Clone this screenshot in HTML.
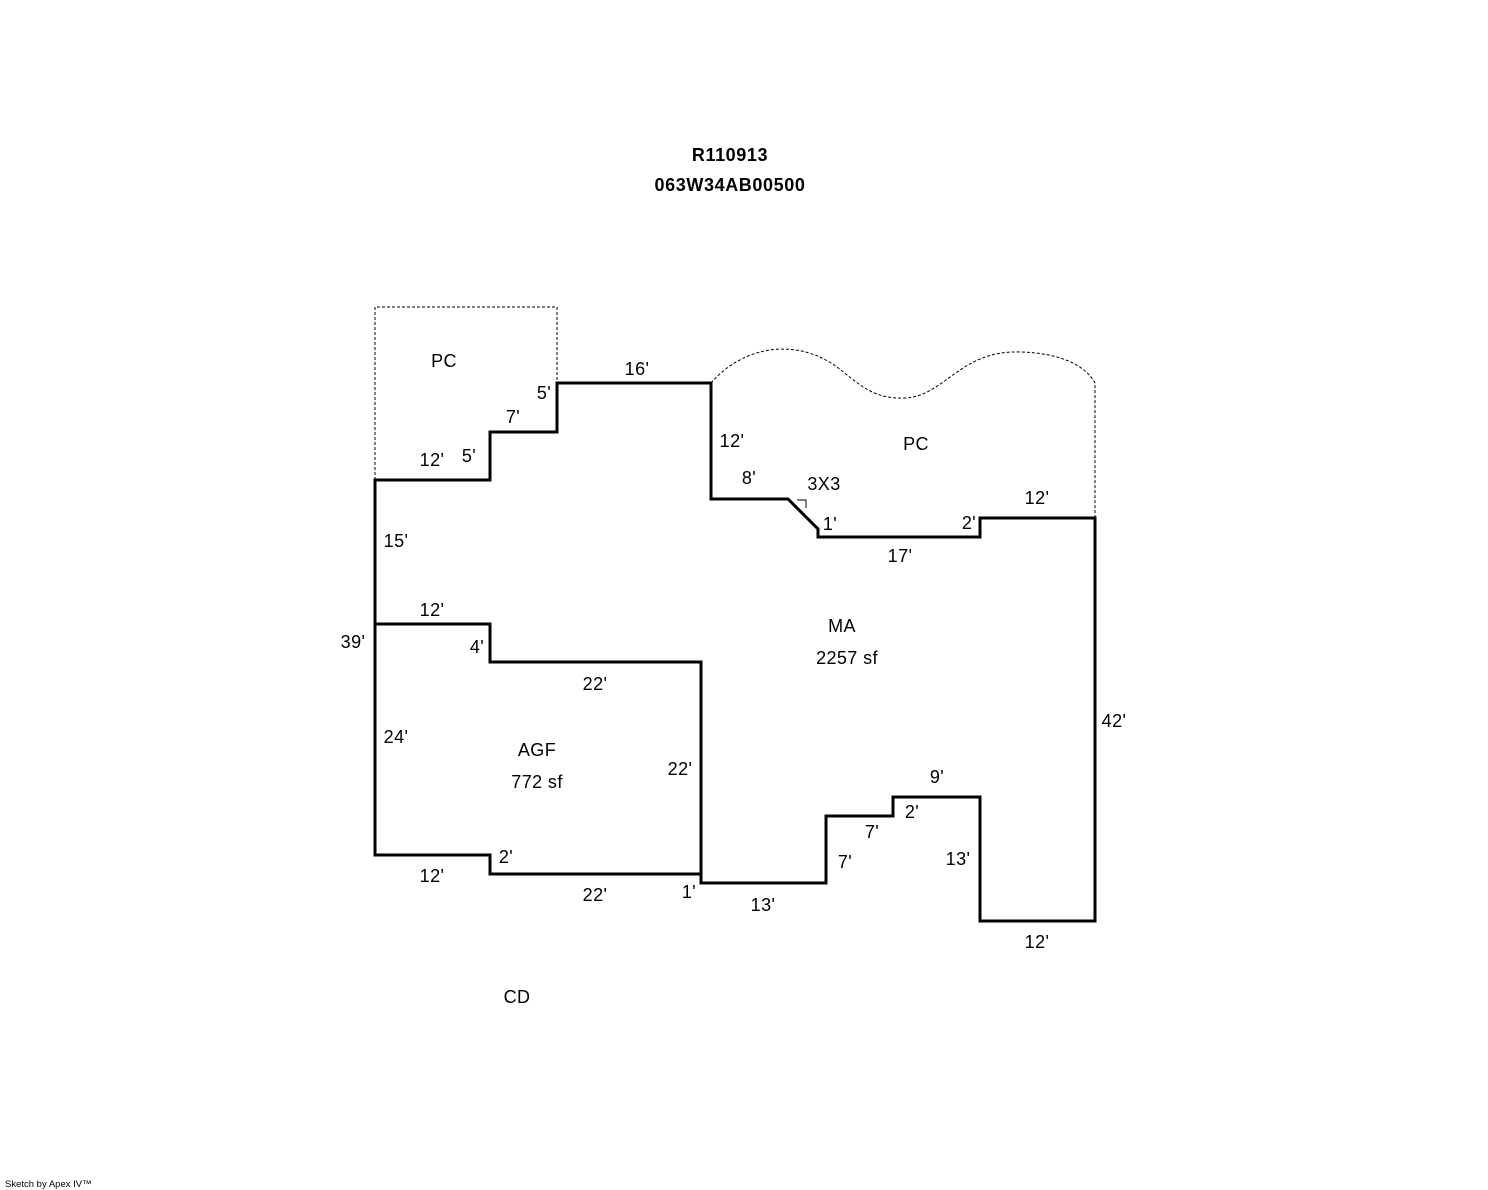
<!DOCTYPE html>
<html><head><meta charset="utf-8"><style>
html,body{margin:0;padding:0;background:#fff;}
svg{display:block;}
text{font-family:"Liberation Sans",Arial,sans-serif;font-size:18px;letter-spacing:0.4px;fill:#000;}
</style></head><body>
<svg width="1488" height="1190" viewBox="0 0 1488 1190" xmlns="http://www.w3.org/2000/svg">
<text x="730" y="161" text-anchor="middle" font-weight="bold" style="font-size:18px;letter-spacing:0.6px">R110913</text>
<text x="730" y="191" text-anchor="middle" font-weight="bold" style="font-size:18px;letter-spacing:0.6px">063W34AB00500</text>
<g fill="none" stroke="#000" stroke-width="1" stroke-dasharray="3,2">
<path d="M375 480 L375 307 L557 307 L557 383"/>
<path d="M711 383 C735 355 775 340 815 355 C850 368 860 400 905 398 C945 396 960 350 1020 352 C1060 353 1085 365 1095 383 L1095 518"/>
</g>
<g fill="none" stroke="#000" stroke-width="3" stroke-linejoin="miter">
<path d="M375 480 L490 480 L490 432 L557 432 L557 383 L711 383 L711 499 L788 499 L818 529 L818 537 L980 537 L980 518 L1095 518 L1095 921 L980 921 L980 797 L893 797 L893 816 L826 816 L826 883 L701 883 L701 874 L490 874 L490 855 L375 855 Z"/>
<path d="M375 624 L490 624 L490 662 L701 662 L701 874"/>
</g>
<path d="M797 500 L806 500 L806 508" fill="none" stroke="#000" stroke-width="1"/>
<g>
<text x="444" y="367" text-anchor="middle">PC</text>
<text x="916" y="450" text-anchor="middle">PC</text>
<text x="637" y="375" text-anchor="middle">16'</text>
<text x="544" y="399" text-anchor="middle">5'</text>
<text x="513" y="423" text-anchor="middle">7'</text>
<text x="432" y="466" text-anchor="middle">12'</text>
<text x="469" y="462" text-anchor="middle">5'</text>
<text x="732" y="447" text-anchor="middle">12'</text>
<text x="749" y="484" text-anchor="middle">8'</text>
<text x="824" y="490" text-anchor="middle">3X3</text>
<text x="830" y="530" text-anchor="middle">1'</text>
<text x="969" y="529" text-anchor="middle">2'</text>
<text x="1037" y="504" text-anchor="middle">12'</text>
<text x="900" y="562" text-anchor="middle">17'</text>
<text x="396" y="547" text-anchor="middle">15'</text>
<text x="432" y="616" text-anchor="middle">12'</text>
<text x="353" y="648" text-anchor="middle">39'</text>
<text x="477" y="653" text-anchor="middle">4'</text>
<text x="842" y="632" text-anchor="middle">MA</text>
<text x="847" y="664" text-anchor="middle">2257 sf</text>
<text x="595" y="690" text-anchor="middle">22'</text>
<text x="1114" y="727" text-anchor="middle">42'</text>
<text x="396" y="743" text-anchor="middle">24'</text>
<text x="537" y="756" text-anchor="middle">AGF</text>
<text x="537" y="788" text-anchor="middle">772 sf</text>
<text x="680" y="775" text-anchor="middle">22'</text>
<text x="937" y="783" text-anchor="middle">9'</text>
<text x="912" y="818" text-anchor="middle">2'</text>
<text x="872" y="838" text-anchor="middle">7'</text>
<text x="958" y="865" text-anchor="middle">13'</text>
<text x="845" y="868" text-anchor="middle">7'</text>
<text x="506" y="863" text-anchor="middle">2'</text>
<text x="432" y="882" text-anchor="middle">12'</text>
<text x="689" y="898" text-anchor="middle">1'</text>
<text x="595" y="901" text-anchor="middle">22'</text>
<text x="763" y="911" text-anchor="middle">13'</text>
<text x="1037" y="948" text-anchor="middle">12'</text>
<text x="517" y="1003" text-anchor="middle">CD</text>
<text x="5" y="1187" style="font-size:9.5px;letter-spacing:0">Sketch by Apex IV™</text>
</g>
</svg>
</body></html>
